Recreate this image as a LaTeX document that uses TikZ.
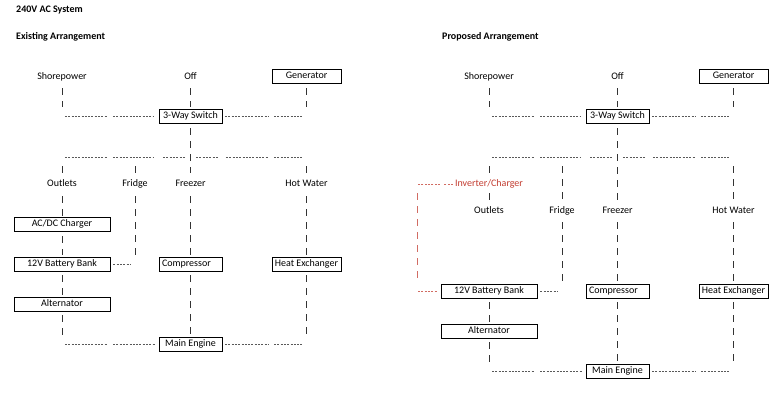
\documentclass[tikz,border=0pt]{standalone}
\usepackage{fontspec}
\setmainfont{Carlito}
\usetikzlibrary{positioning}
\definecolor{invred}{HTML}{C23B2F}

\begin{document}
\begin{tikzpicture}[x=1pt, y=-1pt,
    lbl/.style={inner sep=0pt, text height=6.8pt, text depth=1.8pt},
    unit/.style={lbl, draw, line width=0.6pt, minimum height=14pt},
    hd/.style={black!65, line width=0.5pt, dash pattern=on 2pt off 1.3pt},
    vb/.style={black!80, line width=0.7pt, dash pattern=on 7pt off 6pt},
    rd/.style={hd, invred!75},
    rb/.style={vb, invred!75},
    title/.style={inner sep=0pt, anchor=west, font=\bfseries}]
\useasboundingbox (0,0) rectangle (780,400);

% Headings
\node[title] (sys) at (16,10) {240V AC System};
\node[title] (exist) at (16,37) {Existing Arrangement};
\node[title] (prop) at (442,37) {Proposed Arrangement};

% Supply side, the same in both arrangements
\foreach \s/\dx in {L/0,R/427}{
  \node[lbl] (shore\s) at (62+\dx,77) {Shorepower};
  \node[lbl] (off\s) at (190.5+\dx,77) {Off};
  \node[unit, minimum width=69pt] (gen\s) at (306.5+\dx,76) {Generator};
  \node[unit, minimum width=63pt] (sw\s) at (190.5+\dx,116) {3-Way Switch};
  \coordinate (bus\s) at (190.5+\dx,157);
  \draw[vb, shorten <=11pt, shorten >=9pt] (shore\s.center) -- (shore\s.center |- sw\s.center);
  \draw[vb, shorten <=11pt, shorten >=2pt] (off\s.center) -- (sw\s.north);
  \draw[vb, shorten <=5pt, shorten >=9pt] (gen\s.south) -- (gen\s.south |- sw\s.center);
  \foreach \a/\b in {65/107,113/154,225/268,274/303}
    \draw[hd] (\a+\dx,116) -- (\b+\dx,116);
  \foreach \a/\b in {65/107,113/153,163/186,196/219,226/268,274/303}
    \draw[hd] (\a+\dx,157) -- (\b+\dx,157);
}

% Existing arrangement
\node[lbl] (outL) at (62,184) {Outlets};
\node[lbl] (fdgL) at (135,184) {Fridge};
\node[lbl] (frzL) at (190.5,184) {Freezer};
\node[lbl] (hwL) at (306.5,184) {Hot Water};
\node[unit, minimum width=96pt] (chgL) at (62,224) {AC/DC Charger};
\node[unit, minimum width=96pt] (batL) at (62,264) {12V Battery Bank};
\node[unit, minimum width=63pt, text width=57pt, align=left] (cmpL) at (190.5,264) {Compressor};
\node[unit, minimum width=69pt] (hxL) at (306.5,264) {Heat Exchanger};
\node[unit, minimum width=96pt] (altL) at (62,304) {Alternator};
\node[unit, minimum width=63pt] (engL) at (190.5,344) {Main Engine};

\draw[vb, shorten <=5pt, shorten >=11pt] (swL.south) -- (frzL.center);
\foreach \n in {outL,fdgL,hwL}
  \draw[vb, shorten <=9pt, shorten >=11pt] (\n.center |- busL) -- (\n.center);
\draw[vb, shorten <=12pt, shorten >=1pt] (outL.center) -- (chgL.north);
\draw[vb, shorten <=5pt, shorten >=2pt] (chgL.south) -- (batL.north);
\draw[vb, shorten <=4pt, shorten >=1pt] (batL.south) -- (altL.north);
\draw[vb, shorten <=4pt, shorten >=8pt] (altL.south) -- (altL.south |- engL.center);
\draw[vb, shorten <=12pt, shorten >=7pt] (fdgL.center) -- (fdgL.center |- batL.center);
\draw[hd] ([xshift=3pt]batL.east) -- ([xshift=-4pt]fdgL.center |- batL.center);
\draw[vb, shorten <=12pt, shorten >=1pt] (frzL.center) -- (cmpL.north);
\draw[vb, shorten <=4pt, shorten >=1pt] (cmpL.south) -- (engL.north);
\draw[vb, shorten <=12pt, shorten >=1pt] (hwL.center) -- (hxL.north);
\draw[vb, shorten <=4pt, shorten >=8pt] (hxL.south) -- (hxL.south |- engL.center);
\foreach \a/\b in {65/107,113/155,225/268,274/303}
  \draw[hd] (\a,344) -- (\b,344);

% Proposed arrangement
\node[lbl, text=invred] (invR) at (489,184) {Inverter/Charger};
\node[lbl] (outR) at (489,211) {Outlets};
\node[lbl] (fdgR) at (562,211) {Fridge};
\node[lbl] (frzR) at (617.5,211) {Freezer};
\node[lbl] (hwR) at (733.5,211) {Hot Water};
\node[unit, minimum width=96pt] (batR) at (489,291) {12V Battery Bank};
\node[unit, minimum width=63pt, text width=57pt, align=left] (cmpR) at (617.5,291) {Compressor};
\node[unit, minimum width=69pt] (hxR) at (733.5,291) {Heat Exchanger};
\node[unit, minimum width=96pt] (altR) at (489,331) {Alternator};
\node[unit, minimum width=63pt] (engR) at (617.5,371) {Main Engine};
\coordinate (rtop) at (417,184);
\coordinate (rbot) at (417,291);

\draw[vb, shorten <=5pt, shorten >=11pt] (swR.south) -- (frzR.center);
\foreach \n in {invR,fdgR,hwR}
  \draw[vb, shorten <=9pt, shorten >=11pt] (\n.center |- busR) -- (\n.center);
\draw[vb, shorten <=9pt, shorten >=9pt] (invR.center) -- (outR.center);
\draw[vb, shorten <=11pt, shorten >=9pt] (fdgR.center) -- (fdgR.center |- batR.center);
\draw[hd] ([xshift=3pt]batR.east) -- ([xshift=-4pt]fdgR.center |- batR.center);
\draw[vb, shorten <=11pt, shorten >=1pt] (frzR.center) -- (cmpR.north);
\draw[vb, shorten <=4pt, shorten >=1pt] (cmpR.south) -- (engR.north);
\draw[vb, shorten <=11pt, shorten >=1pt] (hwR.center) -- (hxR.north);
\draw[vb, shorten <=4pt, shorten >=8pt] (hxR.south) -- (hxR.south |- engR.center);
\draw[vb, shorten <=4pt, shorten >=1pt] (batR.south) -- (altR.north);
\draw[vb, shorten <=4pt, shorten >=8pt] (altR.south) -- (altR.south |- engR.center);
\foreach \a/\b in {65/107,113/155,225/268,274/303}
  \draw[hd] (\a+427,371) -- (\b+427,371);

% Inverter/charger feed to the battery bank
\draw[rd] ([xshift=-2pt]invR.west) -- ++(-9,0);
\draw[rd] ([xshift=-15pt]invR.west) -- ([xshift=1pt]rtop);
\draw[rb, shorten <=9pt, shorten >=9pt] (rtop) -- (rbot);
\draw[rd] ([xshift=1pt]rbot) -- ([xshift=-3pt]batR.west);
\end{tikzpicture}
\end{document}
